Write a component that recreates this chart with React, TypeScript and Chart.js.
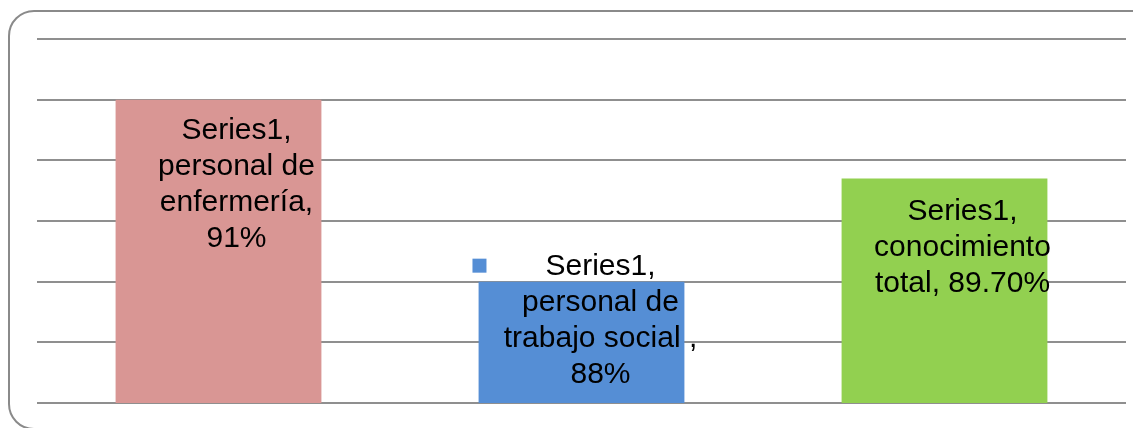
import React, { useEffect, useRef } from "react";
import { Chart, registerables } from "chart.js";

Chart.register(...registerables);

const categories = ["personal de enfermería", "personal de trabajo social", "conocimiento total"];
const values = [91, 88, 89.7];
const barColors = ["#D99694", "#558ED5", "#92D050"];
const labelLines = [
  ["Series1,", "personal de", "enfermería,", "91%"],
  ["Series1,", "personal de", "trabajo social ,", "88%"],
  ["Series1,", "conocimiento", "total, 89.70%"],
];
const yMin = 86;
const yMax = 92;
const yStep = 1;

const labelOffsets = [
  { dx: 18, dy: 31, key: false },
  { dx: 19, dy: -15, key: true },
  { dx: 18, dy: 33, key: false },
];

const labelPlugin = {
  id: "excelLabels",
  afterDatasetsDraw(chart: any) {
    const ctx = chart.ctx;
    const meta = chart.getDatasetMeta(0);
    ctx.save();
    ctx.font = "30px 'Liberation Sans', Arial, sans-serif";
    ctx.fillStyle = "#000000";
    ctx.textAlign = "center";
    ctx.textBaseline = "middle";
    meta.data.forEach((bar: any, i: number) => {
      const off = labelOffsets[i];
      const cx = bar.x + off.dx;
      const y0 = bar.y + off.dy;
      labelLines[i].forEach((line, j) => {
        ctx.fillText(line, cx, y0 + j * 36);
      });
      if (off.key) {
        const w = ctx.measureText(labelLines[i][0]).width;
        ctx.fillStyle = barColors[i];
        ctx.fillRect(cx - w / 2 - 73, y0 - 8, 14, 14);
        ctx.fillStyle = "#000000";
      }
    });
    ctx.restore();
  },
};

export default function App() {
  const canvasRef = useRef<HTMLCanvasElement | null>(null);

  useEffect(() => {
    if (!canvasRef.current) return;
    const chart = new Chart(canvasRef.current, {
      type: "bar",
      data: {
        labels: categories,
        datasets: [
          {
            label: "Series1",
            data: values,
            backgroundColor: barColors,
            borderWidth: 0,
            barPercentage: 0.567,
            categoryPercentage: 1,
          },
        ],
      },
      options: {
        animation: false,
        responsive: false,
        maintainAspectRatio: false,
        layout: { padding: { left: 29, right: 15, top: 31, bottom: 25 } },
        plugins: { legend: { display: false }, tooltip: { enabled: false } },
        scales: {
          x: { display: false },
          y: {
            min: yMin,
            max: yMax,
            ticks: { display: false, stepSize: yStep },
            border: { display: false },
            grid: { color: "#8f8f8f", lineWidth: 2, drawTicks: false },
          },
        },
      },
      plugins: [labelPlugin],
    });
    return () => chart.destroy();
  }, []);

  return (
    <div style={{ position: "relative", width: 1133, height: 420, overflow: "hidden" }}>
      <div
        style={{
          position: "absolute",
          left: 0,
          top: 2,
          width: 1150,
          height: 420,
          border: "2px solid #8a8a8a",
          borderRadius: 26,
          boxSizing: "border-box",
        }}
      />
      <canvas ref={canvasRef} width={1133} height={420} style={{ position: "absolute", left: 0, top: 0 }} />
    </div>
  );
}
